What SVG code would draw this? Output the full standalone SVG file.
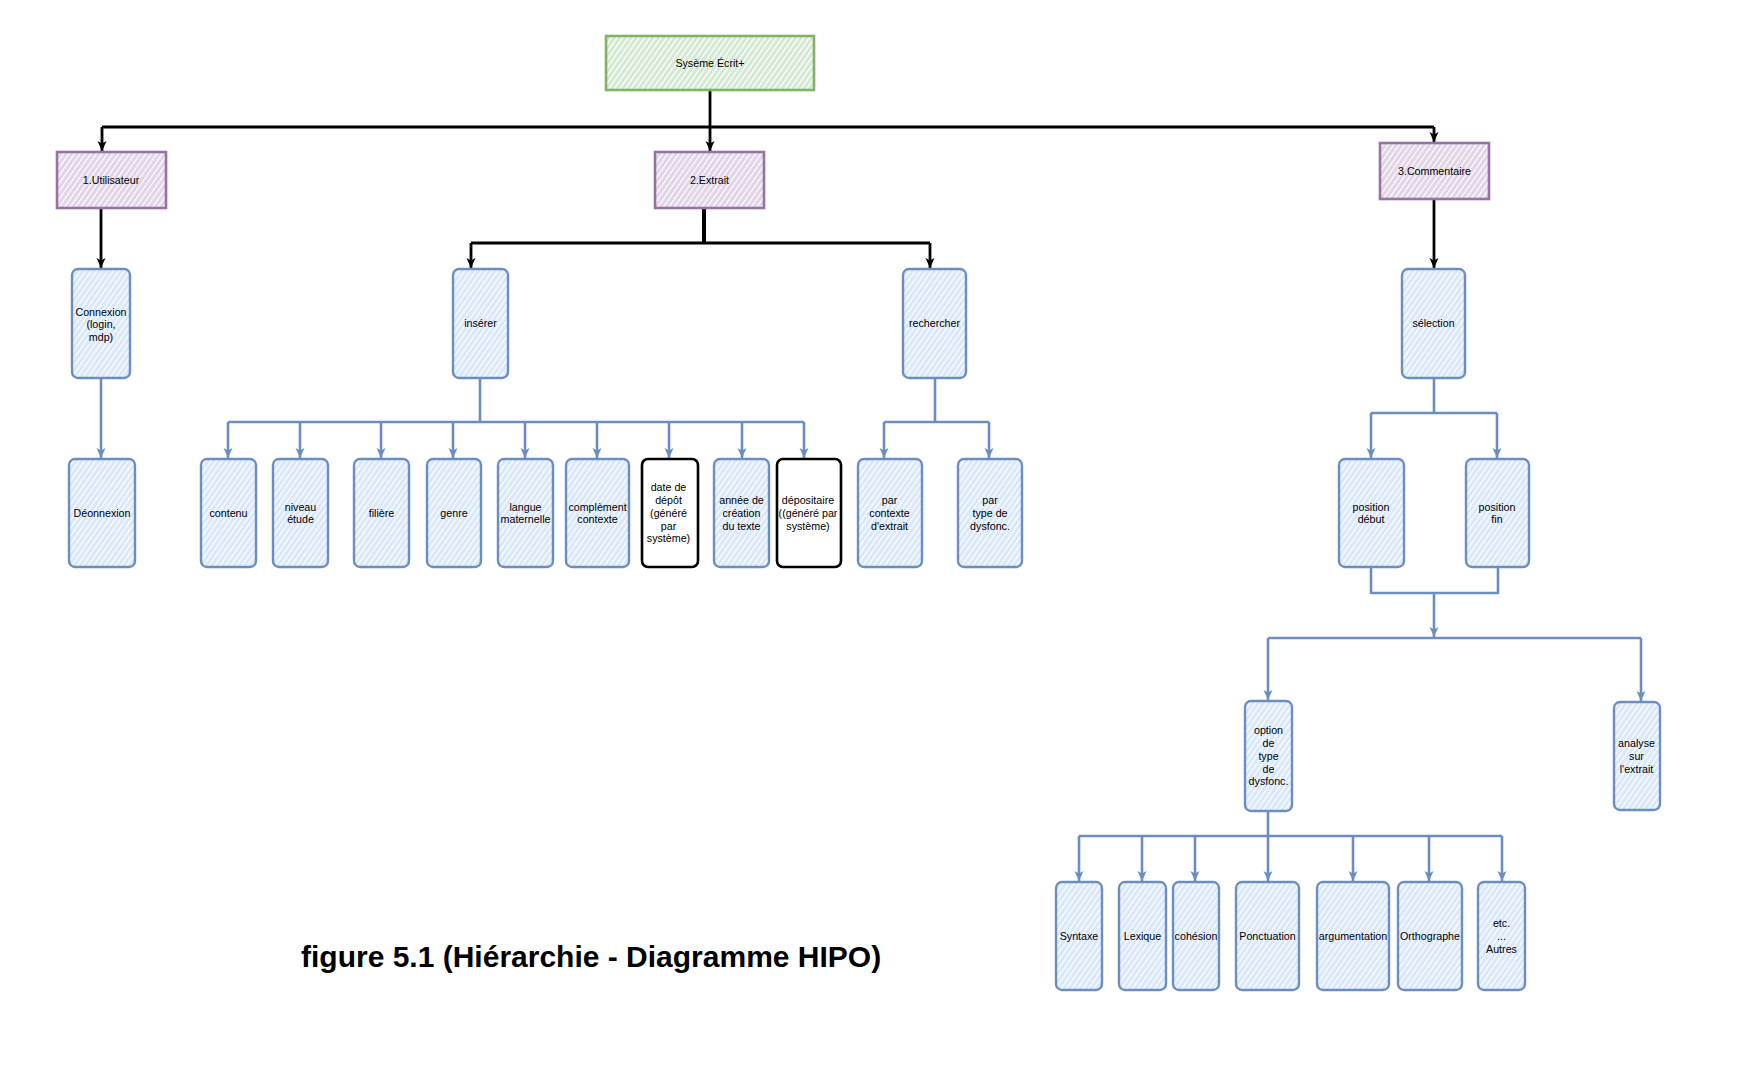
<svg xmlns="http://www.w3.org/2000/svg" width="1748" height="1074" viewBox="0 0 1748 1074">
<style>
.t{font-family:"Liberation Sans",Arial,Helvetica,sans-serif;font-size:10.7px;fill:#000;text-anchor:middle}
.title{font-family:"Liberation Sans",Arial,Helvetica,sans-serif;font-size:30px;font-weight:bold;fill:#000}
.blue{fill:url(#hBlue);stroke:#6c8ebf;stroke-width:2.4;stroke-linejoin:round}
.purple{fill:url(#hPurple);stroke:#9673a6;stroke-width:2.6}
.green{fill:url(#hGreen);stroke:#82b366;stroke-width:2.6}
.bw{fill:#fff;stroke:#000;stroke-width:2.6}
.cb{fill:none;stroke:#000;stroke-width:2.8;stroke-linejoin:round}
.cl{fill:none;stroke:#6c8ebf;stroke-width:2.6;stroke-linejoin:round}
.ab{marker-end:url(#arrB)}
.al{marker-end:url(#arrL)}
</style>
<defs>
<pattern id="hBlue" patternUnits="userSpaceOnUse" width="4.5" height="10" patternTransform="rotate(35)">
<rect width="4.5" height="10" fill="#dae8fc"/><rect width="1.2" height="10" fill="#fff"/>
</pattern>
<pattern id="hPurple" patternUnits="userSpaceOnUse" width="4.5" height="10" patternTransform="rotate(35)">
<rect width="4.5" height="10" fill="#e1d5e7"/><rect width="1.2" height="10" fill="#fff"/>
</pattern>
<pattern id="hGreen" patternUnits="userSpaceOnUse" width="4.5" height="10" patternTransform="rotate(35)">
<rect width="4.5" height="10" fill="#d5e8d4"/><rect width="1.2" height="10" fill="#fff"/>
</pattern>
<marker id="arrB" markerUnits="userSpaceOnUse" markerWidth="10" markerHeight="10" viewBox="0 0 10 10" refX="10" refY="5" orient="auto">
<path d="M0,0.5 L10,5 L0,9.5 L2.5,5 z" fill="#000"/>
</marker>
<marker id="arrL" markerUnits="userSpaceOnUse" markerWidth="10" markerHeight="10" viewBox="0 0 10 10" refX="10" refY="5" orient="auto">
<path d="M0,0.5 L10,5 L0,9.5 L2.5,5 z" fill="#6c8ebf"/>
</marker>
</defs>

<g id="connectors">
<path class="cb" d="M102,127 H1434"/>
<path class="cb ab" d="M710,90 V151"/>
<path class="cb ab" d="M102,127 V151"/>
<path class="cb ab" d="M1434,127 V142"/>
<path class="cb ab" d="M101,208 V268"/>
<path class="cb" d="M704,208 V243" style="stroke-width:4"/>
<path class="cb" d="M471,243 H930"/>
<path class="cb ab" d="M471,243 V268"/>
<path class="cb ab" d="M930,243 V268"/>
<path class="cb ab" d="M1434,199 V268"/>

<path class="cl al" d="M101,378 V458"/>
<path class="cl" d="M480,378 V422 M228,422 H804"/>
<path class="cl al" d="M228,422 V458"/>
<path class="cl al" d="M300,422 V458"/>
<path class="cl al" d="M381,422 V458"/>
<path class="cl al" d="M453,422 V458"/>
<path class="cl al" d="M525,422 V458"/>
<path class="cl al" d="M597,422 V458"/>
<path class="cl al" d="M669,422 V458"/>
<path class="cl al" d="M742,422 V458"/>
<path class="cl al" d="M804,422 V458"/>
<path class="cl" d="M935,378 V422 M884,422 H989"/>
<path class="cl al" d="M884,422 V458"/>
<path class="cl al" d="M989,422 V458"/>
<path class="cl" d="M1434,378 V413 M1371,413 H1497"/>
<path class="cl al" d="M1371,413 V458"/>
<path class="cl al" d="M1497,413 V458"/>
<path class="cl" d="M1371,567 V593 H1498 V567"/>
<path class="cl al" d="M1434,593 V637"/>
<path class="cl" d="M1268,638 H1641"/>
<path class="cl al" d="M1268,638 V700"/>
<path class="cl al" d="M1641,638 V701"/>
<path class="cl" d="M1268,811 V836 M1079,836 H1502"/>
<path class="cl al" d="M1079,836 V881"/>
<path class="cl al" d="M1142,836 V881"/>
<path class="cl al" d="M1195,836 V881"/>
<path class="cl al" d="M1268,836 V881"/>
<path class="cl al" d="M1353,836 V881"/>
<path class="cl al" d="M1429,836 V881"/>
<path class="cl al" d="M1502,836 V881"/>
</g>

<g id="n-systeme"><rect class="green" x="606" y="36" width="208" height="54"/><text class="t" x="710" y="66.8">Sysème Écrit+</text></g>
<g id="n-utilisateur"><rect class="purple" x="57" y="152" width="109" height="56"/><text class="t" x="111" y="183.8">1.Utilisateur</text></g>
<g id="n-extrait"><rect class="purple" x="655" y="152" width="109" height="56"/><text class="t" x="709.5" y="183.8">2.Extrait</text></g>
<g id="n-commentaire"><rect class="purple" x="1380" y="143" width="109" height="56"/><text class="t" x="1434.5" y="174.8">3.Commentaire</text></g>

<g id="n-connexion"><rect class="blue" x="72" y="269" width="58" height="109" rx="6"/><text class="t" y="315.5"><tspan x="101">Connexion</tspan><tspan x="101" dy="12.7">(login,</tspan><tspan x="101" dy="12.7">mdp)</tspan></text></g>
<g id="n-inserer"><rect class="blue" x="453" y="269" width="55" height="109" rx="6"/><text class="t" x="480.5" y="327.3">insérer</text></g>
<g id="n-rechercher"><rect class="blue" x="903" y="269" width="63" height="109" rx="6"/><text class="t" x="934.5" y="327.3">rechercher</text></g>
<g id="n-selection"><rect class="blue" x="1402" y="269" width="63" height="109" rx="6"/><text class="t" x="1433.5" y="327.3">sélection</text></g>

<g id="n-deonnexion"><rect class="blue" x="69" y="459" width="66" height="108" rx="6"/><text class="t" x="102" y="516.8">Déonnexion</text></g>
<g id="n-contenu"><rect class="blue" x="201" y="459" width="55" height="108" rx="6"/><text class="t" x="228.5" y="516.8">contenu</text></g>
<g id="n-niveau"><rect class="blue" x="273" y="459" width="55" height="108" rx="6"/><text class="t" y="510.5"><tspan x="300.5">niveau</tspan><tspan x="300.5" dy="12.7">étude</tspan></text></g>
<g id="n-filiere"><rect class="blue" x="354" y="459" width="55" height="108" rx="6"/><text class="t" x="381.5" y="516.8">filière</text></g>
<g id="n-genre"><rect class="blue" x="427" y="459" width="54" height="108" rx="6"/><text class="t" x="454" y="516.8">genre</text></g>
<g id="n-langue"><rect class="blue" x="498" y="459" width="55" height="108" rx="6"/><text class="t" y="510.5"><tspan x="525.5">langue</tspan><tspan x="525.5" dy="12.7">maternelle</tspan></text></g>
<g id="n-complement"><rect class="blue" x="566" y="459" width="63" height="108" rx="6"/><text class="t" y="510.5"><tspan x="597.5">complèment</tspan><tspan x="597.5" dy="12.7">contexte</tspan></text></g>
<g id="n-date"><rect class="bw" x="642" y="459" width="56" height="108" rx="6"/><text class="t" y="491.4"><tspan x="668.5">date de</tspan><tspan x="668.5" dy="12.7">dépôt</tspan><tspan x="668.5" dy="12.7">(généré</tspan><tspan x="668.5" dy="12.7">par</tspan><tspan x="668.5" dy="12.7">système)</tspan></text></g>
<g id="n-annee"><rect class="blue" x="714" y="459" width="55" height="108" rx="6"/><text class="t" y="504.1"><tspan x="741.5">année de</tspan><tspan x="741.5" dy="12.7">création</tspan><tspan x="741.5" dy="12.7">du texte</tspan></text></g>
<g id="n-depositaire"><rect class="bw" x="777" y="459" width="64" height="108" rx="6"/><text class="t" y="504.1"><tspan x="808">dépositaire</tspan><tspan x="808" dy="12.7">((généré par</tspan><tspan x="808" dy="12.7">système)</tspan></text></g>
<g id="n-parcontexte"><rect class="blue" x="858" y="459" width="64" height="108" rx="6"/><text class="t" y="504.1"><tspan x="889.5">par</tspan><tspan x="889.5" dy="12.7">contexte</tspan><tspan x="889.5" dy="12.7">d'extrait</tspan></text></g>
<g id="n-partype"><rect class="blue" x="958" y="459" width="64" height="108" rx="6"/><text class="t" y="504.1"><tspan x="990">par</tspan><tspan x="990" dy="12.7">type de</tspan><tspan x="990" dy="12.7">dysfonc.</tspan></text></g>
<g id="n-posdebut"><rect class="blue" x="1339" y="459" width="65" height="108" rx="6"/><text class="t" y="510.5"><tspan x="1371">position</tspan><tspan x="1371" dy="12.7">début</tspan></text></g>
<g id="n-posfin"><rect class="blue" x="1466" y="459" width="63" height="108" rx="6"/><text class="t" y="510.5"><tspan x="1497">position</tspan><tspan x="1497" dy="12.7">fin</tspan></text></g>

<g id="n-option"><rect class="blue" x="1245" y="701" width="47" height="110" rx="6"/><text class="t" y="734.4"><tspan x="1268.5">option</tspan><tspan x="1268.5" dy="12.7">de</tspan><tspan x="1268.5" dy="12.7">type</tspan><tspan x="1268.5" dy="12.7">de</tspan><tspan x="1268.5" dy="12.7">dysfonc.</tspan></text></g>
<g id="n-analyse"><rect class="blue" x="1614" y="702" width="46" height="108" rx="6"/><text class="t" y="747.1"><tspan x="1636.5">analyse</tspan><tspan x="1636.5" dy="12.7">sur</tspan><tspan x="1636.5" dy="12.7">l'extrait</tspan></text></g>

<g id="n-syntaxe"><rect class="blue" x="1056" y="882" width="46" height="108" rx="6"/><text class="t" x="1079" y="939.8">Syntaxe</text></g>
<g id="n-lexique"><rect class="blue" x="1119" y="882" width="47" height="108" rx="6"/><text class="t" x="1142.5" y="939.8">Lexique</text></g>
<g id="n-cohesion"><rect class="blue" x="1173" y="882" width="46" height="108" rx="6"/><text class="t" x="1196" y="939.8">cohésion</text></g>
<g id="n-ponctuation"><rect class="blue" x="1236" y="882" width="63" height="108" rx="6"/><text class="t" x="1267.5" y="939.8">Ponctuation</text></g>
<g id="n-argumentation"><rect class="blue" x="1317" y="882" width="72" height="108" rx="6"/><text class="t" x="1353" y="939.8">argumentation</text></g>
<g id="n-orthographe"><rect class="blue" x="1398" y="882" width="64" height="108" rx="6"/><text class="t" x="1430" y="939.8">Orthographe</text></g>
<g id="n-autres"><rect class="blue" x="1478" y="882" width="47" height="108" rx="6"/><text class="t" y="927.1"><tspan x="1501.5">etc.</tspan><tspan x="1501.5" dy="12.7">...</tspan><tspan x="1501.5" dy="12.7">Autres</tspan></text></g>

<text class="title" x="301" y="966.5">figure 5.1 (Hiérarchie - Diagramme HIPO)</text>
</svg>
